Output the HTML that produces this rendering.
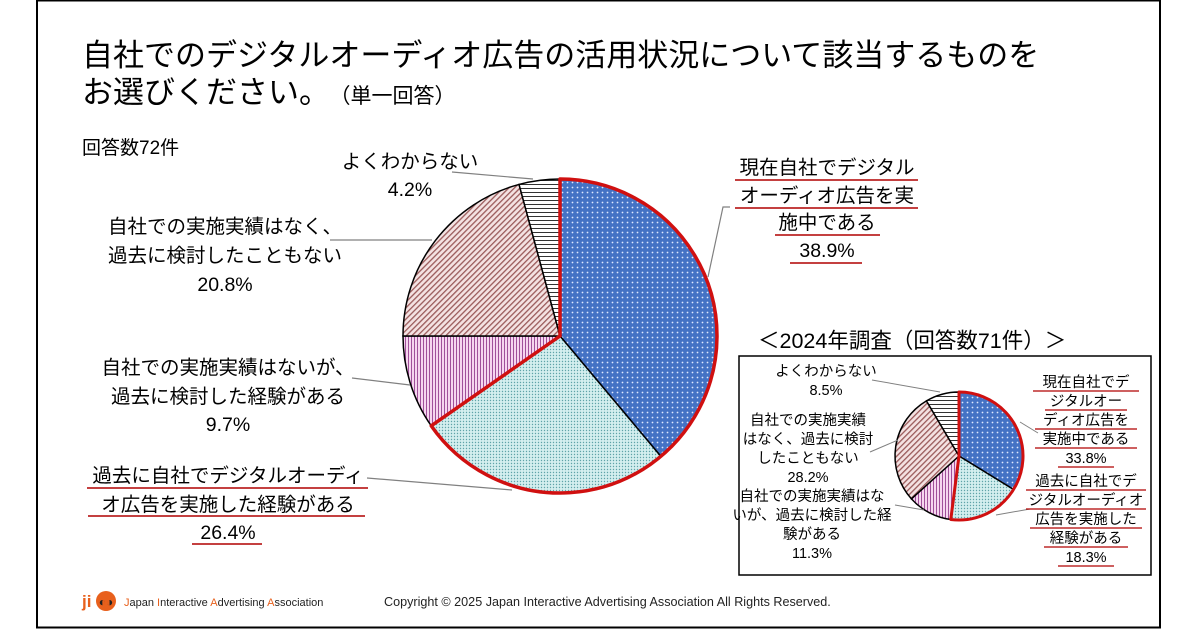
<!DOCTYPE html>
<html><head><meta charset="utf-8">
<style>
body{margin:0;background:#fff;}
svg{display:block;font-family:"Liberation Sans","Noto Sans CJK JP",sans-serif;}
</style></head>
<body>
<svg id="c" width="1200" height="630" viewBox="0 0 1200 630" xmlns="http://www.w3.org/2000/svg">
<defs>
<pattern id="pBlue" width="5" height="5" patternUnits="userSpaceOnUse"><rect width="5" height="5" fill="#4472c4"/><circle cx="2.5" cy="2.5" r="0.9" fill="#dfe8ff"/></pattern>
<pattern id="pTeal" width="3" height="3" patternUnits="userSpaceOnUse"><rect width="3" height="3" fill="#d4efef"/><circle cx="1.5" cy="1.5" r="0.7" fill="#5fa3a8"/></pattern>
<pattern id="pPink" width="3" height="3" patternUnits="userSpaceOnUse"><rect width="3" height="3" fill="#f6d6ef"/><rect width="1" height="3" fill="#a0509a"/></pattern>
<pattern id="pBrown" width="4" height="4" patternUnits="userSpaceOnUse" patternTransform="rotate(45)"><rect width="4" height="4" fill="#f4e2e2"/><rect width="1.3" height="4" fill="#9a5a5a"/></pattern>
<pattern id="pHoriz" width="4" height="4" patternUnits="userSpaceOnUse"><rect width="4" height="4" fill="#fff"/><rect width="4" height="1" fill="#333"/></pattern>
</defs>
<rect x="37" y="0.5" width="1123" height="627" fill="#fff" stroke="#000" stroke-width="2"/>
<g font-size="31" fill="#000">
<text x="82" y="66">自社でのデジタルオーディオ広告の活用状況について該当するものを</text>
<text x="82" y="103">お選びください。<tspan font-size="21" dx="10">（単一回答）</tspan></text>
</g>
<text x="82" y="154" font-size="19">回答数72件</text>

<g id="main"></g>
<g id="mainLabels" font-size="19.5" text-anchor="middle">
<g stroke="#808080" stroke-width="1.2" fill="none">
<line x1="452" y1="172" x2="533" y2="179"/>
<line x1="330" y1="240" x2="432" y2="240"/>
<line x1="352" y1="378" x2="410" y2="385"/>
<line x1="367" y1="478" x2="512" y2="490"/>
<polyline points="730,207 723,207 708,277"/>
</g>
<text x="410" y="168">よくわからない</text><text x="410" y="196">4.2%</text>
<text x="225" y="233">自社での実施実績はなく、</text><text x="225" y="262">過去に検討したこともない</text><text x="225" y="291">20.8%</text>
<text x="228" y="374">自社での実施実績はないが、</text><text x="228" y="403">過去に検討した経験がある</text><text x="228" y="431">9.7%</text>
<text x="228" y="482">過去に自社でデジタルオーディ</text><text x="228" y="511">オ広告を実施した経験がある</text><text x="228" y="539">26.4%</text>
<text x="827" y="174">現在自社でデジタル</text><text x="827" y="202">オーディオ広告を実</text><text x="827" y="229">施中である</text><text x="827" y="257">38.9%</text>
<g stroke="#b00000" stroke-width="1.5">
<line x1="87" y1="488" x2="368" y2="488"/><line x1="88" y1="516" x2="365" y2="516"/><line x1="192" y1="544" x2="262" y2="544"/>
<line x1="735" y1="180" x2="918" y2="180"/><line x1="735" y1="208" x2="918" y2="208"/><line x1="775" y1="235" x2="880" y2="235"/><line x1="790" y1="263" x2="862" y2="263"/>
</g>
</g>

<text x="758" y="348" font-size="21.5">＜2024年調査（回答数71件）＞</text>
<rect x="739" y="356" width="412" height="219" fill="#fff" stroke="#000" stroke-width="1.5"/>
<g id="inset"></g>
<g font-size="14.5" text-anchor="middle">
<g stroke="#808080" stroke-width="1" fill="none">
<line x1="872" y1="380" x2="940" y2="392"/>
<line x1="870" y1="452" x2="898" y2="440"/>
<line x1="895" y1="505" x2="924" y2="510"/>
<line x1="1038" y1="433" x2="1020" y2="422"/>
<line x1="1030" y1="509" x2="996" y2="515"/>
</g>
<text x="826" y="376">よくわからない</text><text x="826" y="395">8.5%</text>
<text x="808" y="425">自社での実施実績</text><text x="808" y="444">はなく、過去に検討</text><text x="808" y="463">したこともない</text><text x="808" y="482">28.2%</text>
<text x="812" y="501">自社での実施実績はな</text><text x="812" y="520">いが、過去に検討した経</text><text x="812" y="539">験がある</text><text x="812" y="558">11.3%</text>
<text x="1086" y="387">現在自社でデ</text><text x="1086" y="406">ジタルオー</text><text x="1086" y="425">ディオ広告を</text><text x="1086" y="444">実施中である</text><text x="1086" y="463">33.8%</text>
<text x="1086" y="486">過去に自社でデ</text><text x="1086" y="505">ジタルオーディオ</text><text x="1086" y="524">広告を実施した</text><text x="1086" y="543">経験がある</text><text x="1086" y="562">18.3%</text>
<g stroke="#b00000" stroke-width="1.2">
<line x1="1033" y1="391" x2="1139" y2="391"/><line x1="1045" y1="410" x2="1127" y2="410"/><line x1="1035" y1="429" x2="1137" y2="429"/><line x1="1035" y1="448" x2="1137" y2="448"/><line x1="1058" y1="467" x2="1114" y2="467"/>
<line x1="1026" y1="490" x2="1146" y2="490"/><line x1="1026" y1="509" x2="1146" y2="509"/><line x1="1030" y1="528" x2="1142" y2="528"/><line x1="1044" y1="547" x2="1128" y2="547"/><line x1="1058" y1="566" x2="1114" y2="566"/>
</g>
</g>

<g>
<text x="82" y="607" font-size="17" font-weight="bold" fill="#e8601c">ji</text>
<circle cx="106" cy="601" r="10" fill="#e8601c"/>
<text x="106" y="606" font-size="12" font-weight="bold" fill="#222" text-anchor="middle">◐◑</text>
<text x="124" y="606" font-size="11" fill="#222"><tspan fill="#e8601c">J</tspan>apan <tspan fill="#e8601c">I</tspan>nteractive <tspan fill="#e8601c">A</tspan>dvertising <tspan fill="#e8601c">A</tspan>ssociation</text>
</g>
<text x="384" y="606" font-size="12.6" fill="#222">Copyright © 2025 Japan Interactive Advertising Association All Rights Reserved.</text>
</svg>
<script>
const categories = ["現在実施中","過去に実施経験","検討経験あり","検討なし","よくわからない"];
const mainValues = [38.9, 26.4, 9.7, 20.8, 4.2];
const insetValues = [33.8, 18.3, 11.3, 28.2, 8.5];
const fills = ["url(#pBlue)","url(#pTeal)","url(#pPink)","url(#pBrown)","url(#pHoriz)"];
const NS = "http://www.w3.org/2000/svg";
function pt(cx,cy,r,a){return [cx+r*Math.sin(a), cy-r*Math.cos(a)];}
function arcPath(cx,cy,r,a0,a1){
  const p0=pt(cx,cy,r,a0), p1=pt(cx,cy,r,a1);
  const large=(a1-a0)>Math.PI?1:0;
  return `M${cx},${cy} L${p0[0]},${p0[1]} A${r},${r} 0 ${large} 1 ${p1[0]},${p1[1]} Z`;
}
function drawPie(gid,cx,cy,r,vals,sw,namePrefix){
  const g=document.getElementById(gid);
  const tot=vals.reduce((a,b)=>a+b,0);
  let a=0; const angles=[];
  vals.forEach((v,i)=>{
    const a1=a+v/tot*2*Math.PI;
    const p=document.createElementNS(NS,"path");
    p.setAttribute("d",arcPath(cx,cy,r,a,a1));
    p.setAttribute("fill",fills[i]);
    p.setAttribute("stroke","#000");
    p.setAttribute("stroke-width","1.5");
    
    
    g.appendChild(p);
    angles.push([a,a1]); a=a1;
  });
  const o=document.createElementNS(NS,"path");
  o.setAttribute("d",arcPath(cx,cy,r,angles[0][0],angles[1][1]));
  o.setAttribute("fill","none");
  o.setAttribute("stroke","#d01010");
  o.setAttribute("stroke-width",sw);
  o.setAttribute("stroke-linejoin","round");
  
  
  g.appendChild(o);
}
drawPie("main",560,336,157,mainValues,3.5,"main");
drawPie("inset",959,456,64,insetValues,3,"inset");
</script>
</body></html>
